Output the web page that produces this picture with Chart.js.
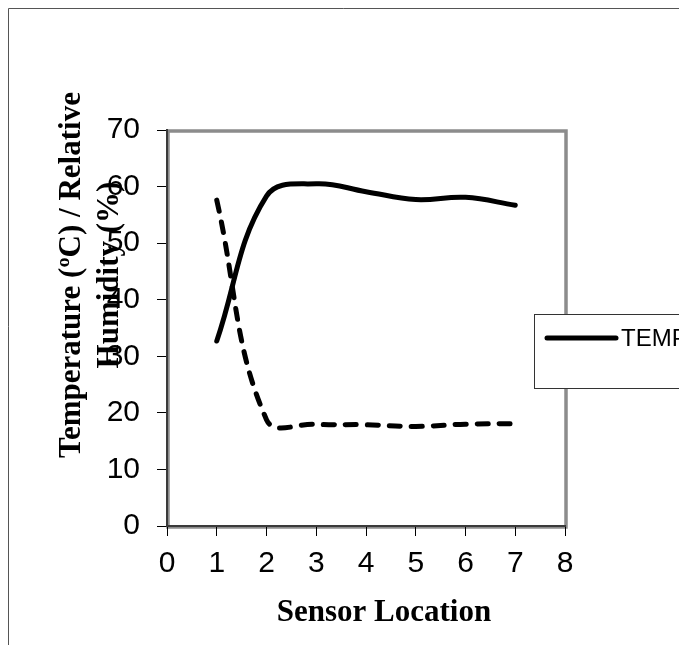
<!DOCTYPE html>
<html>
<head>
<meta charset="utf-8">
<script src="https://cdn.jsdelivr.net/npm/chart.js@4.4.0/dist/chart.umd.min.js"></script>
<style>
  html, body { margin: 0; padding: 0; background: #fff; }
  #wrap { width: 679px; height: 645px; }
</style>
</head>
<body>
<div id="wrap"><canvas id="chart" width="679" height="645"></canvas></div>
<script>
// sensor positions and readings
const sensorLocations = [1, 2, 3, 4, 5, 6, 7];
const temperature = [32.7, 58.3, 60.5, 59.1, 57.7, 58.1, 56.7];
const humidity = [57.6, 18.8, 18.0, 17.9, 17.6, 18.0, 18.1];
const xTicks = [0, 1, 2, 3, 4, 5, 6, 7, 8];
const yTicks = [0, 10, 20, 30, 40, 50, 60, 70];

const xTitle = 'Sensor Location';
const yTitle = ['Temperature (ºC) / Relative', 'Humidity (%)'];

function toPoints(xs, ys) {
    return xs.map(function (x, i) { return { x: x, y: ys[i] }; });
}

// outer frame + grey plot border, drawn first
const framePlugin = {
    id: 'frame',
    beforeDraw(chart) {
        const ctx = chart.ctx;
        const a = chart.chartArea;
        ctx.save();
        ctx.fillStyle = '#fff';
        ctx.fillRect(0, 0, chart.width, chart.height);
        ctx.strokeStyle = '#555';
        ctx.lineWidth = 1;
        ctx.beginPath();
        ctx.moveTo(8.5, chart.height);
        ctx.lineTo(8.5, 8.5);
        ctx.lineTo(chart.width, 8.5);
        ctx.stroke();
        ctx.strokeStyle = '#8c8c8c';
        ctx.lineWidth = 3.5;
        ctx.strokeRect(a.left + 1, a.top + 1, a.right - a.left, a.bottom - a.top);
        ctx.restore();
    }
};

// axis titles and the boxed legend, drawn last
const labelsPlugin = {
    id: 'labels',
    afterDraw(chart) {
        const ctx = chart.ctx;
        ctx.save();
        ctx.fillStyle = '#000';
        ctx.font = 'bold 31px "Liberation Serif", "Times New Roman", serif';
        ctx.textAlign = 'center';
        ctx.textBaseline = 'alphabetic';
        ctx.fillText(xTitle, 384, 621);

        ctx.translate(80, 275);
        ctx.rotate(-Math.PI / 2);
        ctx.fillText(yTitle[0], 0, 0);
        ctx.fillText(yTitle[1], 0, 38);
        ctx.restore();

        // legend
        const ds = chart.data.datasets[0];
        ctx.save();
        ctx.fillStyle = '#fff';
        ctx.fillRect(534, 314, 160, 74);
        ctx.strokeStyle = '#333';
        ctx.lineWidth = 1;
        ctx.strokeRect(534.5, 314.5, 160, 74);
        ctx.strokeStyle = ds.borderColor;
        ctx.lineWidth = ds.borderWidth;
        ctx.lineCap = 'round';
        ctx.beginPath();
        ctx.moveTo(547, 338);
        ctx.lineTo(616, 338);
        ctx.stroke();
        ctx.fillStyle = '#000';
        ctx.font = '24px "Liberation Sans", Arial, sans-serif';
        ctx.textAlign = 'left';
        ctx.textBaseline = 'middle';
        ctx.fillText(ds.label, 621, 339);
        ctx.restore();
    }
};

const ctx = document.getElementById('chart').getContext('2d');
new Chart(ctx, {
    type: 'line',
    data: {
        datasets: [
            {
                label: 'TEMP',
                data: toPoints(sensorLocations, temperature),
                borderColor: '#000',
                borderWidth: 5,
                borderCapStyle: 'round',
                borderJoinStyle: 'round',
                pointRadius: 0,
                tension: 0.4,
                fill: false
            },
            {
                label: 'RH',
                data: toPoints(sensorLocations, humidity),
                borderColor: '#000',
                borderWidth: 5,
                borderDash: [11, 11],
                borderCapStyle: 'round',
                borderJoinStyle: 'round',
                pointRadius: 0,
                tension: 0.4,
                fill: false
            }
        ]
    },
    options: {
        responsive: false,
        animation: false,
        layout: { padding: { top: 130, right: 114, left: 0, bottom: 0 } },
        plugins: {
            legend: { display: false },
            tooltip: { enabled: false }
        },
        scales: {
            x: {
                type: 'linear',
                min: xTicks[0],
                max: xTicks[xTicks.length - 1],
                afterBuildTicks(scale) { scale.ticks = xTicks.map(v => ({ value: v })); },
                afterFit(scale) { scale.height = 119; },
                grid: { drawOnChartArea: false, drawTicks: true, tickLength: 10, color: '#000', lineWidth: 1 },
                border: { display: true, color: '#3a3a3a', width: 2 },
                ticks: {
                    color: '#000',
                    padding: 10,
                    maxRotation: 0,
                    font: { family: '"Liberation Sans", Arial, sans-serif', size: 30 }
                }
            },
            y: {
                min: yTicks[0],
                max: yTicks[yTicks.length - 1],
                afterBuildTicks(scale) { scale.ticks = yTicks.map(v => ({ value: v })); },
                afterFit(scale) { scale.width = 167; },
                grid: { drawOnChartArea: false, drawTicks: true, tickLength: 10, color: '#000', lineWidth: 1 },
                border: { display: true, color: '#3a3a3a', width: 2 },
                ticks: {
                    color: '#000',
                    padding: 17,
                    font: { family: '"Liberation Sans", Arial, sans-serif', size: 30 }
                }
            }
        }
    },
    plugins: [framePlugin, labelsPlugin]
});
</script>
</body>
</html>
